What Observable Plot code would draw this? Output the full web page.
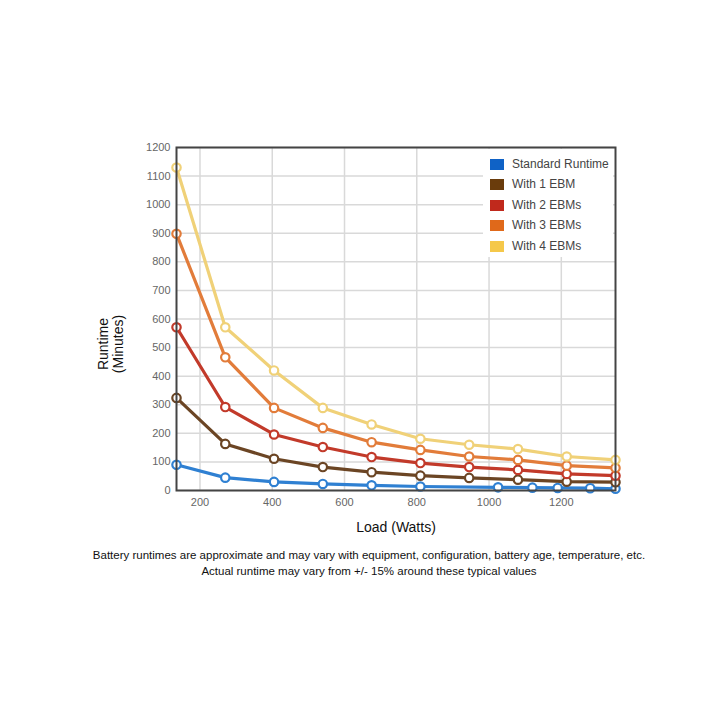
<!DOCTYPE html>
<html>
<head>
<meta charset="utf-8">
<script src="https://cdn.jsdelivr.net/npm/d3@7"></script>
<script src="https://cdn.jsdelivr.net/npm/@observablehq/plot@0.6"></script>
<style>
  html, body { margin: 0; padding: 0; background: #fff; }
  #wrap { position: relative; width: 720px; height: 720px; font-family: "Liberation Sans", Arial, sans-serif; }
  #legend { position: absolute; left: 483px; top: 149px; width: 130px; height: 108px; background: #fff; }
  .item { position: absolute; left: 7px; height: 14px; font-size: 12px; color: #444; line-height: 14px; }
  .sw { position: absolute; left: 0; top: 2px; width: 14px; height: 11px; }
  .lab { position: absolute; left: 22px; top: 0; white-space: nowrap; }
  #caption { position: absolute; left: 0; top: 547px; width: 738px; text-align: center; font-size: 11.5px; line-height: 16px; color: #111; }
</style>
</head>
<body>
<div id="wrap">
  <div id="chart"></div>
  <div id="legend"></div>
  <div id="caption"></div>
</div>
<script>
const seriesNames = ["Standard Runtime", "With 1 EBM", "With 2 EBMs", "With 3 EBMs", "With 4 EBMs"];
const swatchColors = ["#0f62c6", "#6a3c0c", "#c0291c", "#e0691a", "#f5c84a"];
const lineColors = ["#2f80d2", "#6b4524", "#c23a2a", "#e27c3a", "#f0d178"];

const loadsEBM = [135, 270, 405, 540, 675, 810, 945, 1080, 1215, 1350];
const loadsStd = [135, 270, 405, 540, 675, 810, 1025, 1120, 1190, 1280, 1350];

const runtimeStd  = [90, 45, 30, 23, 18, 14, 11, 10, 9, 8, 6];
const runtime1EBM = [324, 163, 111, 82, 64, 52, 44, 38, 31, 29];
const runtime2EBM = [571, 292, 196, 152, 117, 96, 82, 72, 58, 52];
const runtime3EBM = [898, 466, 289, 219, 169, 142, 119, 107, 87, 79];
const runtime4EBM = [1130, 571, 420, 289, 231, 181, 160, 145, 119, 107];

const xTicks = [200, 400, 600, 800, 1000, 1200];
const yTicks = [0, 100, 200, 300, 400, 500, 600, 700, 800, 900, 1000, 1100, 1200];

const captionLines = [
  "Battery runtimes are approximate and may vary with equipment, configuration, battery age, temperature, etc.",
  "Actual runtime may vary from +/- 15% around these typical values"
];

const data = [];
runtimeStd.forEach((v, i) => data.push({series: seriesNames[0], load: loadsStd[i], runtime: v}));
[runtime1EBM, runtime2EBM, runtime3EBM, runtime4EBM].forEach((arr, k) =>
  arr.forEach((v, i) => data.push({series: seriesNames[k + 1], load: loadsEBM[i], runtime: v})));

const fmt = d => String(d);

const chart = Plot.plot({
  width: 720,
  height: 546,
  marginTop: 147,
  marginLeft: 176,
  marginRight: 105,
  marginBottom: 56,
  style: {fontFamily: "'Liberation Sans', Arial, sans-serif", fontSize: "11px", color: "#666", background: "#fff"},
  x: {domain: [135, 1350], label: null},
  y: {domain: [0, 1200], label: null},
  color: {domain: seriesNames, range: lineColors},
  marks: [
    Plot.gridX(xTicks, {stroke: "#d9d9d9", strokeOpacity: 1, strokeWidth: 1.5}),
    Plot.gridY(yTicks, {stroke: "#d9d9d9", strokeOpacity: 1, strokeWidth: 1.5}),
    Plot.axisX({ticks: xTicks, tickSize: 0, tickPadding: 8, tickFormat: fmt, label: null}),
    Plot.axisY({ticks: yTicks, tickSize: 0, tickPadding: 6, tickFormat: fmt, label: null}),
    Plot.line(data, {x: "load", y: "runtime", z: "series", stroke: "series", strokeWidth: 3.2}),
    Plot.dot(data, {x: "load", y: "runtime", stroke: "series", fill: "white", r: 4.2, strokeWidth: 2.2}),
    Plot.frame({stroke: "#444", strokeWidth: 2})
  ]
});
document.getElementById("chart").appendChild(chart);

const svg = d3.select(chart);
svg.append("text")
  .attr("x", 396).attr("y", 532)
  .attr("text-anchor", "middle")
  .attr("font-size", 14).attr("fill", "#111")
  .text("Load (Watts)");
const yl = svg.append("text")
  .attr("transform", "translate(110,344) rotate(-90)")
  .attr("text-anchor", "middle")
  .attr("font-size", 14).attr("fill", "#111");
yl.append("tspan").attr("x", 0).attr("dy", "-0.15em").text("Runtime");
yl.append("tspan").attr("x", 0).attr("dy", "1.1em").text("(Minutes)");

const legend = d3.select("#legend");
seriesNames.forEach((name, i) => {
  const it = legend.append("div").attr("class", "item").style("top", (8 + i * 20.4) + "px");
  it.append("div").attr("class", "sw").style("background", swatchColors[i]);
  it.append("div").attr("class", "lab").text(name);
});

const cap = d3.select("#caption");
captionLines.forEach(t => cap.append("div").text(t));
</script>
</body>
</html>
